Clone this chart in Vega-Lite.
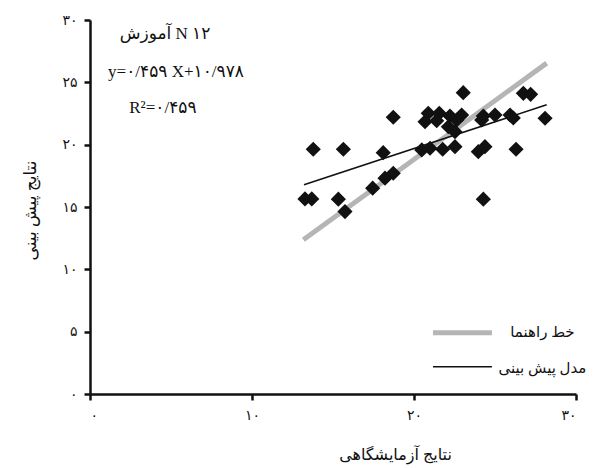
{
  "$schema": "https://vega.github.io/schema/vega-lite/v6.json",
  "width": 486,
  "height": 374,
  "autosize": {"type": "none"},
  "padding": {"left": 90, "top": 20, "right": 35, "bottom": 74},
  "background": "white",
  "config": {
    "view": {"stroke": null},
    "font": "Liberation Serif, DejaVu Sans",
    "axis": {
      "grid": false,
      "domainColor": "#111111",
      "domainWidth": 2.5,
      "tickColor": "#111111",
      "tickWidth": 2.5,
      "tickSize": 6,
      "labelColor": "#111111",
      "labelFontSize": 14,
      "labelFont": "Liberation Serif, DejaVu Sans",
      "titleColor": "#111111",
      "titleFont": "Liberation Serif, DejaVu Sans",
      "titleFontWeight": "normal"
    }
  },
  "datasets": {
    "points": [
      {"x": 13.27, "y": 15.65}, {"x": 13.69, "y": 15.65}, {"x": 13.78, "y": 19.63},
      {"x": 15.33, "y": 15.63}, {"x": 15.74, "y": 14.63}, {"x": 15.64, "y": 19.63},
      {"x": 17.45, "y": 16.51}, {"x": 18.10, "y": 19.36}, {"x": 18.21, "y": 17.31},
      {"x": 18.72, "y": 17.71}, {"x": 18.72, "y": 22.20}, {"x": 20.48, "y": 19.58},
      {"x": 20.99, "y": 19.71}, {"x": 20.88, "y": 22.52}, {"x": 20.68, "y": 21.84},
      {"x": 21.56, "y": 22.52}, {"x": 21.40, "y": 21.92}, {"x": 21.77, "y": 19.63},
      {"x": 22.22, "y": 22.30}, {"x": 22.64, "y": 21.98}, {"x": 22.94, "y": 22.38},
      {"x": 22.12, "y": 21.44}, {"x": 22.53, "y": 21.04}, {"x": 22.53, "y": 19.84},
      {"x": 23.04, "y": 24.17}, {"x": 23.97, "y": 19.44}, {"x": 24.38, "y": 19.84},
      {"x": 24.28, "y": 22.30}, {"x": 24.18, "y": 21.98}, {"x": 24.28, "y": 15.63},
      {"x": 25.00, "y": 22.38}, {"x": 25.93, "y": 22.38}, {"x": 26.13, "y": 22.14},
      {"x": 26.30, "y": 19.63}, {"x": 26.75, "y": 24.12}, {"x": 27.20, "y": 24.04},
      {"x": 28.09, "y": 22.12}
    ],
    "lines": [
      {"series": "خط راهنما", "x": 13.17, "y": 12.37},
      {"series": "خط راهنما", "x": 28.19, "y": 26.54},
      {"series": "مدل پیش بینی", "x": 13.21, "y": 16.78},
      {"series": "مدل پیش بینی", "x": 28.19, "y": 23.20}
    ]
  },
  "layer": [
    {
      "data": {"name": "lines"},
      "mark": {"type": "line"},
      "encoding": {
        "x": {
          "field": "x",
          "type": "quantitative",
          "scale": {"domain": [0, 30], "nice": false, "zero": true},
          "axis": {
            "values": [0, 10, 20, 30],
            "labelExpr": "replace(replace(replace(replace(datum.label,'1','۱'),'2','۲'),'3','۳'),'0','۰')",
            "labelPadding": 8,
            "title": "نتایج آزمایشگاهی",
            "titleFontSize": 16,
            "titleX": 305,
            "titleY": 60,
            "titleAlign": "center",
            "titleBaseline": "middle"
          }
        },
        "y": {
          "field": "y",
          "type": "quantitative",
          "scale": {"domain": [0, 30], "nice": false, "zero": true},
          "axis": {
            "values": [0, 5, 10, 15, 20, 25, 30],
            "labelExpr": "replace(replace(replace(replace(replace(datum.label,'1','۱'),'2','۲'),'3','۳'),'5','۵'),'0','۰')",
            "labelPadding": 7,
            "title": "نتایج پیش بینی",
            "titleFontSize": 17,
            "titleX": -60,
            "titleY": 190,
            "titleAlign": "center",
            "titleBaseline": "middle",
            "titleAngle": -90
          }
        },
        "color": {
          "field": "series",
          "type": "nominal",
          "scale": {"domain": ["خط راهنما", "مدل پیش بینی"], "range": ["#b5b5b5", "#111111"]},
          "legend": null
        },
        "strokeWidth": {
          "field": "series",
          "type": "nominal",
          "scale": {"domain": ["خط راهنما", "مدل پیش بینی"], "range": [5, 1.6]},
          "legend": null
        }
      }
    },
    {
      "data": {"name": "points"},
      "mark": {"type": "point", "shape": "diamond", "filled": true, "color": "#111111", "opacity": 1, "size": 230},
      "encoding": {
        "x": {"field": "x", "type": "quantitative"},
        "y": {"field": "y", "type": "quantitative"}
      }
    },
    {
      "data": {"values": [{"series": "خط راهنما"}]},
      "mark": {"type": "rule", "color": "#b5b5b5", "strokeWidth": 5},
      "encoding": {
        "x": {"datum": 21.17, "type": "quantitative"},
        "x2": {"datum": 24.81},
        "y": {"datum": 4.91, "type": "quantitative"}
      }
    },
    {
      "data": {"values": [{"series": "مدل پیش بینی"}]},
      "mark": {"type": "rule", "color": "#111111", "strokeWidth": 1.6},
      "encoding": {
        "x": {"datum": 21.17, "type": "quantitative"},
        "x2": {"datum": 24.81},
        "y": {"datum": 2.19, "type": "quantitative"}
      }
    },
    {
      "data": {"values": [{"label": "خط راهنما"}]},
      "mark": {"type": "text", "fontSize": 15, "color": "#111111", "align": "center", "baseline": "middle"},
      "encoding": {
        "x": {"datum": 27.93, "type": "quantitative"},
        "y": {"datum": 4.99, "type": "quantitative"},
        "text": {"field": "label"}
      }
    },
    {
      "data": {"values": [{"label": "مدل پیش بینی"}]},
      "mark": {"type": "text", "fontSize": 15, "color": "#111111", "align": "center", "baseline": "middle"},
      "encoding": {
        "x": {"datum": 27.93, "type": "quantitative"},
        "y": {"datum": 2.11, "type": "quantitative"},
        "text": {"field": "label"}
      }
    },
    {
      "data": {"values": [{"label": "آموزش N ۱۲"}]},
      "mark": {"type": "text", "fontSize": 17, "color": "#111111", "align": "center", "baseline": "middle"},
      "encoding": {
        "x": {"datum": 4.63, "type": "quantitative"},
        "y": {"datum": 28.87, "type": "quantitative"},
        "text": {"field": "label"}
      }
    },
    {
      "data": {"values": [{"label": "y=۰/۴۵۹ X+۱۰/۹۷۸"}]},
      "mark": {"type": "text", "fontSize": 17, "color": "#111111", "align": "center", "baseline": "middle"},
      "encoding": {
        "x": {"datum": 5.31, "type": "quantitative"},
        "y": {"datum": 25.8, "type": "quantitative"},
        "text": {"field": "label"}
      }
    },
    {
      "data": {"values": [{"label": "R²=۰/۴۵۹"}]},
      "mark": {"type": "text", "fontSize": 17, "color": "#111111", "align": "center", "baseline": "middle"},
      "encoding": {
        "x": {"datum": 4.5, "type": "quantitative"},
        "y": {"datum": 22.95, "type": "quantitative"},
        "text": {"field": "label"}
      }
    }
  ]
}
